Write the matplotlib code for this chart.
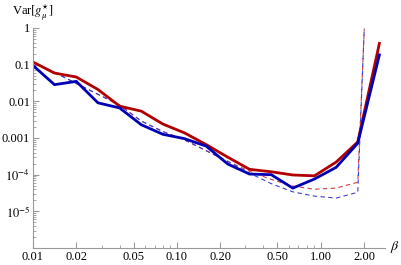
import matplotlib.pyplot as plt
import matplotlib.ticker as mticker
import numpy as np

# beta grid of the simulated points (sqrt(2) steps)
beta = [0.01, 0.0141, 0.02, 0.0283, 0.04, 0.0566, 0.08, 0.113, 0.16, 0.226,
        0.32, 0.453, 0.64, 0.905, 1.28, 1.81, 2.56]
var_red = [0.118, 0.059, 0.046, 0.021, 0.0074, 0.0054, 0.0024, 0.00138, 0.00066,
           0.0003, 0.00014, 0.00012, 9.8e-5, 9.3e-5, 2.2e-4, 7.8e-4, 0.38]
var_blue = [0.095, 0.0285, 0.035, 0.0091, 0.0066, 0.0023, 0.00126, 9.6e-4, 6.0e-4,
            1.95e-4, 1.04e-4, 1.0e-4, 4.3e-5, 7.6e-5, 1.58e-4, 7.2e-4, 0.185]

# theory curves (dashed)
beta_th = [0.01, 0.0141, 0.02, 0.0283, 0.04, 0.0566, 0.08, 0.113, 0.16, 0.226,
           0.32, 0.453, 0.64, 0.905, 1.28, 1.81, 2.01]
th_red = [0.113, 0.062, 0.0306, 0.0155, 0.0079, 0.0029, 0.0015, 8.9e-4, 4.5e-4,
          2.3e-4, 1.24e-4, 7.4e-5, 4.9e-5, 4.0e-5, 4.3e-5, 6.2e-5, 0.95]
th_blue = [0.113, 0.062, 0.0306, 0.0155, 0.0079, 0.0029, 0.0015, 8.9e-4, 4.5e-4,
           2.3e-4, 1.1e-4, 5.7e-5, 3.4e-5, 2.6e-5, 2.3e-5, 3.3e-5, 1.05]

xticks = [0.01, 0.02, 0.05, 0.10, 0.20, 0.50, 1.00, 2.00]
xticklabels = ['0.01', '0.02', '0.05', '0.10', '0.20', '0.50', '1.00', '2.00']
yticks = [1, 0.1, 0.01, 0.001, 1e-4, 1e-5]
yticklabels = ['1', '0.1', '0.01', '0.001', r'$10^{-4}$', r'$10^{-5}$']

plt.rcParams['font.family'] = ['Liberation Serif', 'DejaVu Serif']
plt.rcParams['mathtext.fontset'] = 'stix'

fig = plt.figure(figsize=(4.02, 2.65), dpi=100)
ax = fig.add_axes([33/402, 1-248/265, 352/402, 220/265])

red = '#b00000'
blue = '#0000b4'
ax.plot(beta_th, th_red, color='#d04040', lw=0.8, ls=(0, (4, 3)))
ax.plot(beta_th, th_blue, color='#4040d0', lw=0.8, ls=(0, (4, 3)))
ax.plot(beta, var_red, color=red, lw=2.0, solid_joinstyle='miter')
ax.plot(beta, var_blue, color=blue, lw=2.0, solid_joinstyle='miter')

ax.set_xscale('log')
ax.set_yscale('log')
ax.set_xlim(0.01, 2.8)
ax.set_ylim(1e-6, 1)

ax.set_xticks(xticks)
ax.set_xticklabels(xticklabels)
ax.set_yticks(yticks)
ax.set_yticklabels(yticklabels)
ax.xaxis.set_minor_locator(mticker.LogLocator(base=10, subs=np.arange(2, 10)))
ax.yaxis.set_minor_locator(mticker.LogLocator(base=10, subs=np.arange(2, 10)))
ax.xaxis.set_minor_formatter(mticker.NullFormatter())
ax.yaxis.set_minor_formatter(mticker.NullFormatter())

for s in ['top', 'right']:
    ax.spines[s].set_visible(False)
for s in ['left', 'bottom']:
    ax.spines[s].set_color('#999999')
    ax.spines[s].set_linewidth(0.8)
ax.tick_params(which='both', direction='in', color='#999999', labelsize=9, pad=2)
ax.tick_params(which='major', length=4)
ax.tick_params(which='minor', length=2)

fig.text(0.03, 0.955, r'Var$[g^{\star}_{\mu}]$', fontsize=9, va='center', ha='left')
fig.text(390/402, 1-247/265, r'$\beta$', fontsize=10, va='center', ha='left')

fig.savefig('out.png', dpi=100)
